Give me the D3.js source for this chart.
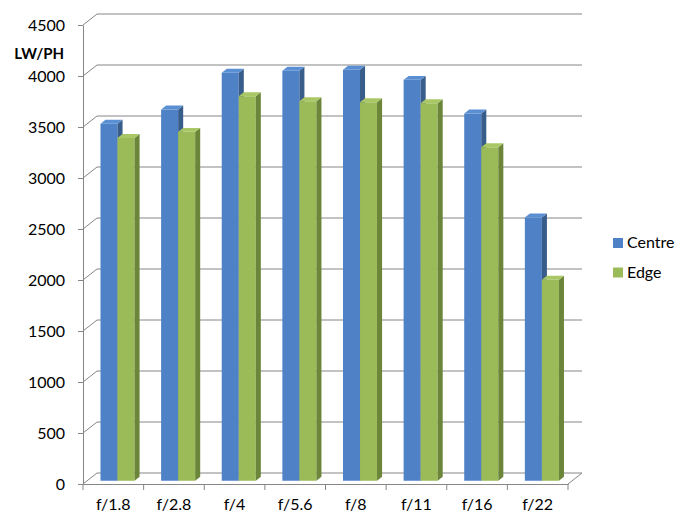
<!DOCTYPE html>
<html>
<head>
<meta charset="utf-8">
<script src="https://cdn.jsdelivr.net/npm/d3@7"></script>
<style>
  body { margin: 0; background: #fff; }
  text { font-family: Lato, "Open Sans", sans-serif; fill: #000; }
</style>
</head>
<body>
<div id="chart"></div>
<script>
// data
var categories = ["f/1.8", "f/2.8", "f/4", "f/5.6", "f/8", "f/11", "f/16", "f/22"];
var seriesNames = ["Centre", "Edge"];
var centre = [3500, 3640, 4000, 4020, 4030, 3930, 3600, 2580];
var edge = [3360, 3420, 3770, 3720, 3710, 3700, 3270, 1970];
var yTicks = [0, 500, 1000, 1500, 2000, 2500, 3000, 3500, 4000, 4500];

var W = 687, H = 520;
var plotLeft = 83, plotRight = 568, plotBottom = 484, plotTop = 25;
// depth of the 3d box
var dx = 14, dy = -11;
// bar depth range (fraction of box depth)
var f0 = 0.3, f1 = 0.66;

var colors = {
  Centre: {front: "#4f81c6", side: "#385d8a", top: "#5b8fd3"},
  Edge: {front: "#9bbb59", side: "#6b8539", top: "#a9c765"}
};
var gridColor = "#868686";

var svg = d3.select("#chart").append("svg")
  .attr("width", W)
  .attr("height", H);

var x = d3.scaleBand().domain(categories).range([plotLeft, plotRight]);
var inner = d3.scaleBand().domain(seriesNames).range([0, x.bandwidth()]).paddingOuter(0.78).paddingInner(0);
var y = d3.scaleLinear().domain([0, 4500]).range([plotBottom, plotTop]);

// back wall gridlines + side wall diagonals
var grid = svg.append("g").attr("stroke", gridColor).attr("fill", "none");
grid.selectAll("path.g")
  .data(yTicks.slice(1))
  .enter().append("path")
  .attr("d", function(d) {
    return "M" + plotLeft + "," + y(d) + "L" + (plotLeft + dx) + "," + (y(d) + dy) + "L" + (plotRight + dx) + "," + (y(d) + dy);
  });

// floor
grid.append("path")
  .attr("d", "M" + plotLeft + "," + plotBottom + "L" + (plotLeft + dx) + "," + (plotBottom + dy) +
    "L" + (plotRight + dx) + "," + (plotBottom + dy) + "L" + plotRight + "," + plotBottom);

// left axis
var yAxis = svg.append("g")
  .attr("transform", "translate(" + plotLeft + ",0)")
  .call(d3.axisLeft(y).tickValues(yTicks).tickFormat(d3.format("d")).tickSize(5).tickPadding(13).tickSizeOuter(0));
yAxis.select(".domain").attr("stroke", gridColor);
yAxis.selectAll(".tick line").attr("stroke", gridColor);
yAxis.selectAll("text").style("font-size", "16px").attr("fill", "#000");

// bottom axis
var xAxis = svg.append("g")
  .attr("transform", "translate(0," + plotBottom + ")")
  .call(d3.axisBottom(x).tickSize(0).tickPadding(15).tickSizeOuter(0));
xAxis.select(".domain").attr("stroke", gridColor);
xAxis.selectAll("text").style("font-size", "16px").attr("fill", "#000");
svg.append("g").attr("stroke", gridColor)
  .selectAll("line")
  .data(categories.concat([null]))
  .enter().append("line")
  .attr("x1", function(d, i) { return plotLeft + i * x.step(); })
  .attr("x2", function(d, i) { return plotLeft + i * x.step(); })
  .attr("y1", plotBottom)
  .attr("y2", plotBottom + 6);

// bars
var bars = [];
categories.forEach(function(c, i) {
  bars.push({cat: c, name: "Centre", value: centre[i]});
  bars.push({cat: c, name: "Edge", value: edge[i]});
});

var ox = dx * f0, oy = dy * f0;
var ddx = dx * (f1 - f0), ddy = dy * (f1 - f0);

var g = svg.append("g").selectAll("g")
  .data(bars)
  .enter().append("g");

function pts(arr) { return arr.map(function(p) { return p.join(","); }).join(" "); }

g.append("polygon")
  .attr("fill", function(d) { return colors[d.name].front; })
  .attr("points", function(d) {
    var x0 = x(d.cat) + inner(d.name) + ox, x1 = x0 + inner.bandwidth();
    var yb = y(0) + oy, yt = y(d.value) + oy;
    return pts([[x0, yb], [x0, yt], [x1, yt], [x1, yb]]);
  });
g.append("polygon")
  .attr("fill", function(d) { return colors[d.name].side; })
  .attr("points", function(d) {
    var x1 = x(d.cat) + inner(d.name) + ox + inner.bandwidth();
    var yb = y(0) + oy, yt = y(d.value) + oy;
    return pts([[x1, yb], [x1, yt], [x1 + ddx, yt + ddy], [x1 + ddx, yb + ddy]]);
  });
g.append("polygon")
  .attr("fill", function(d) { return colors[d.name].top; })
  .attr("points", function(d) {
    var x0 = x(d.cat) + inner(d.name) + ox, x1 = x0 + inner.bandwidth();
    var yt = y(d.value) + oy;
    return pts([[x0, yt], [x1, yt], [x1 + ddx, yt + ddy], [x0 + ddx, yt + ddy]]);
  });

// axis title
svg.append("text")
  .attr("x", 64)
  .attr("y", 59)
  .attr("text-anchor", "end")
  .style("font-size", "15px")
  .style("font-weight", "bold")
  .text("LW/PH");

// legend
var legend = svg.append("g").selectAll("g")
  .data(seriesNames)
  .enter().append("g")
  .attr("transform", function(d, i) { return "translate(613," + (238 + i * 29.5) + ")"; });
legend.append("rect")
  .attr("width", 10).attr("height", 10)
  .attr("fill", function(d) { return colors[d].front; });
legend.append("text")
  .attr("x", 14).attr("y", 10)
  .style("font-size", "16px")
  .text(function(d) { return d; });
</script>
</body>
</html>
